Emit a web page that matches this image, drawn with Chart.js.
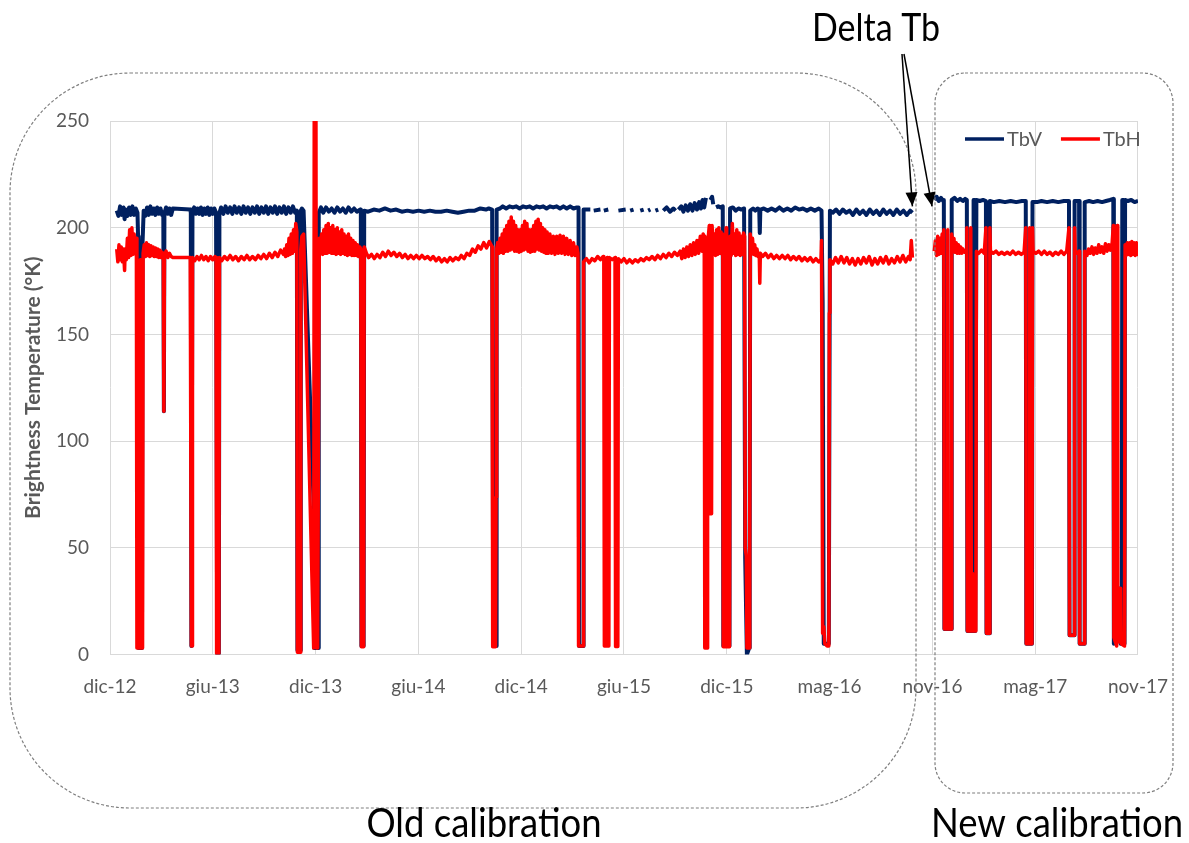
<!DOCTYPE html>
<html>
<head>
<meta charset="utf-8">
<title>Brightness Temperature TbV / TbH</title>
<script src="https://cdn.jsdelivr.net/npm/chart.js@4.4.1/dist/chart.umd.min.js"></script>
<style>
  html, body { margin: 0; padding: 0; background: #fff; }
  #wrap { position: relative; width: 1189px; height: 843px; }
</style>
</head>
<body>
<div id="wrap"><canvas id="tbChart"></canvas></div>
<script>
// x = days counted from 16 Dec 2012, the axis has a major unit of 180 days
const tickLabels = ["dic-12", "giu-13", "dic-13", "giu-14", "dic-14", "giu-15", "dic-15", "mag-16", "nov-16", "mag-17", "nov-17"];
const tickStepDays = 180;
const lastDay = 1832;
const yTickStep = 50;

const seriesNames = ["TbV", "TbH"];
const seriesColors = ["#002060", "#ff0000"];

// TbV [day, K]  (null = no data)
const tbvPoints = [
  [12,208],[15,205.5],[18,210],[21,206],[24,209.5],[26,204],[28,208.5],[31,205.5],[34,209.5],[37,206],[40,210],[43,206],[46,209],[49,207],
  [50,196],[51,3],[57,3],[58,193],[60,208],[63,205.5],[66,209.5],[69,206],[72,210],[75,206.5],[78,209],[81,206],[84,209.5],[87,206.5],[90,209],[93,206],
  [95,207],[96,114],[97,207],[100,209.5],[103,206.5],[106,209],[109,206],[112,209],[143,208.5],[144,207],[145,4],[146,4],[147,208],
  [150,209.5],[153,206.5],[156,209],[159,206.5],[162,209.5],[165,206],[168,209],[171,206.5],[174,209.5],[177,206],[180,209],[183,206.5],[186,209],[189,207],
  [190,207],[191,0.5],[194,0.5],[195,207],[198,209.5],[202,206.5],[206,210],[210,207],[214,209.5],[218,206.5],[222,210],[226,207],[230,209.5],[234,206.5],
  [238,210],[242,207],[246,209.5],[250,206.5],[254,209.5],[258,207],[262,210],[266,206.5],[270,209.5],[274,207],[278,210],[282,206.5],[286,209.5],[290,207],
  [294,210],[298,206.5],[302,209.5],[306,207],[310,210],[314,206.5],[318,209.5],[322,207],[326,210],[330,207],[333,208],[334,2],[339,2],[340,208],[342,209],
  [345,208],[363,70],[364,3],[371,3],[372,207],[376,209.5],[380,207],[385,209.5],[390,207.5],[395,209],[400,207],[405,209.5],[410,207.5],[415,209],[420,207],
  [425,209.5],[430,207.5],[435,209],[440,207.5],[446,208.5],[447,208],[448,4],[452,4],[453,208],[460,207.5],[470,208.5],[480,208],[490,209],[500,208],
  [510,208.5],[520,207.5],[530,208],[540,207.5],[550,208],[560,207.5],[570,208],[580,207.5],[590,207.5],[600,208],[610,207.5],[620,207],[630,207.5],[640,208],
  [650,208],[660,209],[670,208.5],[675,209],[681,208.5],[682,208.5],[683,4],[688,4],[689,208.5],[695,209],[700,210],[706,209],[712,210],[718,209.5],
  [724,210],[730,209],[736,210],[742,209.5],[748,210],[754,209],[760,210],[766,209.5],[772,210],[778,209],[784,210],[790,209.5],[796,210],[802,209],
  [808,210],[814,209],[820,210],[826,209],[832,209.5],[835,209.5],[836,4],[843,4],[844,208.5],[856,208.5],[859,null],[862,208],[874,208.5],[877,null],
  [880,208],[888,208.5],[895,null],[906,208],[919,208.5],[923,null],[927,208],[933,208.5],[939,null],[945,208],[951,208.5],[955,null],[959,208],[963,208.5],
  [967,null],[972,208],[977,208.5],[981,null],[986,208],[992,209.5],[998,207.5],[1004,209],[1008,208],[1010,null],[1013,208.5],[1018,210],[1022,207.5],
  [1026,210.5],[1030,208],[1034,211],[1038,208],[1042,211.5],[1046,208.5],[1050,212],[1053,209],[1056,213],[1059,209.5],[1062,214],[1064,null],[1070,213],
  [1073,214.5],[1075,211],[1077,null],[1080,209.5],[1084,210],[1088,209.5],[1092,210],[1093,4],[1097,195],[1099,4],[1104,4],[1105,209],[1110,209.5],
  [1115,208],[1120,209],[1125,208.5],[1130,209],[1131,209],[1132,45],[1135,0],[1139,3],[1140,50],[1141,208],[1146,209],[1150,208],[1154,209],[1157,208.5],
  [1158,197.5],[1159,208.5],[1165,209],[1172,208],[1179,209],[1186,208],[1193,209.5],[1200,208],[1207,209],[1214,208],[1221,209.5],[1228,208.5],[1235,209],
  [1242,208],[1249,209],[1256,208],[1263,209],[1268,208],[1270,165],[1272,5],[1281,5],[1283,208],[1288,207],[1294,208.5],[1300,206.5],[1306,208.5],
  [1312,207],[1318,208],[1324,206],[1330,208.5],[1336,206.5],[1342,208],[1348,206],[1354,208.5],[1360,206.5],[1366,208],[1372,206],[1378,208.5],
  [1384,206.5],[1390,208],[1396,206],[1402,208.5],[1408,206.5],[1414,208],[1420,206],[1426,208],[1430,207],[1450,null],
  [1469,213],[1473,214.5],[1477,212.5],[1481,214],[1485,212.5],[1486,213],[1487,12],[1499,12],[1500,213],[1505,214],[1510,212.5],[1515,213.5],[1520,212.5],
  [1524,213.5],[1527,213],[1528,11],[1538,11],[1539,213],[1541,213],[1542,11],[1543,11],[1544,213],[1550,212.5],[1556,213],[1561,212.5],[1562,10],[1567,10],
  [1568,212.5],[1575,212],[1585,212.5],[1595,212],[1605,212.5],[1615,212],[1625,212.5],[1632,212.5],[1633,5],[1643,5],[1644,212],[1652,212],[1660,212.5],
  [1670,212],[1680,212.5],[1690,212],[1700,212.5],[1709,212.5],[1710,9],[1718,9],[1719,212.5],[1723,212.5],[1727,212.5],[1728,5],[1736,5],[1737,212],
  [1745,212.5],[1752,212],[1760,212.5],[1768,212],[1775,212.5],[1782,213],[1788,213.5],[1789,5],[1800,31],[1801,5],[1803,5],[1804,213],[1806,213],
  [1807,190],[1808,5],[1809,213],[1814,212.5],[1820,213],[1826,212],[1832,212.5]
];

// TbH [day, K]
const tbhPoints = [
  [12,190],[14,184],[16,192],[18,185],[20,191],[22,184],[24,190],[26,180],[27,190],[29,185],[31,195],[33,186],[35,199],[37,187],[39,200],[41,187.5],
  [43,197],[45,188],[47,195],[48,3],[53,3],[54,185],[55,3],[58,3],[59,188],[61,192],[63,186.5],[65,193],[67,187],[69,192],[71,186.5],[73,191.5],[75,187],
  [77,191],[79,186.5],[81,190.5],[83,186.5],[85,190],[87,186],[89,189.5],[91,186],[93,188.5],[95,187],[96,114],[97,187],[100,189],[103,186],[106,188],
  [109,186.5],[112,186],[143,186],[144,186],[145,4],[146.5,4],[147,186],[151,184.5],[155,186.5],[159,185],[163,187],[167,185],[171,186.5],[175,184.5],
  [179,186.5],[183,185],[187,186.5],[189,186],[190,0.5],[192,2],[194,0.5],[195,186],[199,184.5],[204,186.5],[209,185],[214,187],[219,185],[224,186.5],
  [229,184.5],[234,186.5],[239,185],[244,187],[249,185],[254,186.5],[259,185],[264,187],[269,185.5],[274,187.5],[279,185.5],[284,188],[289,186],[294,188.5],
  [299,186.5],[304,189.5],[309,187.5],[311,190],[313,186.5],[315,192],[317,187],[319,195],[321,187.5],[323,197],[325,188],[327,199],[329,189],[331,202],
  [333,198],[334,1],[339,1],[340,190],[342,196],[345,197],[363,3],[364,260],[367,260],[368,3],[370,3],[373,195],[375,188],[377,197],[379,187.5],[381,199],
  [383,188],[385,201],[387,188],[389,202],[391,188.5],[393,200],[395,188],[397,201],[399,188],[401,199],[403,187.5],[405,200],[407,188],[409,198],
  [411,187.5],[413,199],[415,188],[417,197],[419,187.5],[421,196],[423,187],[425,197],[427,187.5],[429,195],[431,187],[433,194],[435,187],[437,193],
  [439,187],[441,192],[443,186.5],[445,191],[447,190],[448,3.6],[452,3.6],[453,191],[457,188],[461,186],[466,187.5],[471,185.5],[476,187.5],[481,186],
  [486,188.5],[491,186.5],[496,189],[501,187],[506,188.5],[511,186.5],[516,188],[521,186],[526,187.5],[531,185.5],[536,187],[541,185.5],[546,187],
  [551,185.5],[556,187],[561,185.5],[566,186.5],[571,185],[576,186.5],[581,184.5],[586,186],[591,184],[596,185.5],[601,184],[606,186],[611,184.5],
  [616,186],[621,185],[626,187],[631,185.5],[636,188],[641,187],[646,190],[651,188.5],[656,191.5],[661,190],[666,193],[671,190.5],[676,193.5],[681,191],
  [682,3.6],[687,3.6],[688,73.7],[689,190],[691,193],[693,188],[695,195],[697,188.5],[699,197],[701,188],[703,199],[705,189],[707,201],[709,189],[711,203],
  [713,189.5],[715,205],[717,190],[719,203],[721,189],[723,201],[725,189],[727,199],[729,188.5],[731,199],[733,189],[735,201],[737,189.5],[739,203],
  [741,190],[743,202],[745,189],[747,199],[749,188.5],[751,199],[753,189],[755,201],[757,189],[759,203],[761,190],[763,204],[765,189.5],[767,202],
  [769,189],[771,200],[773,188.5],[775,199],[777,188],[779,198],[781,188],[784,197],[787,188],[790,196],[793,187.5],[796,196],[799,188],[802,196.5],
  [805,188],[808,196],[811,187.5],[814,195],[817,187.5],[820,194],[823,187],[826,193],[829,187],[832,191],[834,188],[835,4],[843,4],[844,184],
  [849,185.5],[854,183.5],[859,185.5],[864,184.5],[869,186.5],[874,185],[879,186.5],[880,186],[881,4],[885,4],[886,186],[887,4],[889,4],[890,186],
  [895,185],[900,186],[901,3.8],[905,3.8],[906,185.5],[911,184],[916,185.5],[921,183.5],[926,185],[931,183.5],[936,185],[941,184],[946,185.5],[951,184.5],
  [956,186],[961,185],[966,186.5],[971,185],[976,187],[981,185.5],[986,187.5],[991,186],[996,188],[1001,186.5],[1006,188.5],[1011,187],[1016,189],
  [1019,185.5],[1022,190],[1025,186],[1028,191],[1031,186.5],[1034,192],[1037,187],[1040,193],[1043,187.5],[1046,194],[1049,188],[1052,196],[1055,189],
  [1057,197],[1059,196],[1060,3],[1064,3],[1065,192],[1068,201],[1069,66],[1072,66],[1073,201],[1075,188],[1077,197],[1079,187],[1081,199],[1083,187.5],
  [1085,200],[1087,188],[1089,198],[1091,187.5],[1092,197],[1093,3.6],[1097,3.6],[1098,200],[1099,3.6],[1104,3.6],[1105,196],[1107,187],[1109,202],
  [1111,188],[1113,197],[1115,187],[1117,199],[1119,187.5],[1121,197.5],[1123,187],[1125,196],[1127,187.5],[1129,197.5],[1131,196],[1132,50],[1134,46],
  [1135,3],[1139,3],[1140,48],[1141,197],[1143,188],[1145,195],[1147,187.5],[1149,192],[1151,187],[1153,190],[1155,186.5],[1157,188],[1158,174],[1159,188],
  [1163,186.5],[1168,188],[1173,186],[1178,187.5],[1183,185.5],[1188,187],[1193,185.5],[1198,187],[1203,185.5],[1208,187],[1213,185],[1218,186.5],
  [1223,185],[1228,186.5],[1233,184.5],[1238,186],[1243,184.5],[1248,186],[1253,184],[1258,185.5],[1263,184],[1267,185],[1268,194],[1270,10],[1272,13],
  [1274,5],[1278,4],[1281,4],[1282,160],[1283,185],[1288,183],[1293,186],[1298,183.5],[1303,186.5],[1308,183.5],[1313,186],[1318,183],[1323,185.5],
  [1328,182.5],[1333,185.5],[1338,183],[1343,186],[1348,183.5],[1353,186.5],[1358,182.5],[1363,185.5],[1368,183],[1373,186],[1378,183.5],[1383,186.5],
  [1388,183],[1393,185.5],[1398,183.5],[1403,186.5],[1408,184],[1413,187],[1418,184],[1423,186.5],[1426,185],[1428,194],[1430,186],[1450,null],
  [1469,189],[1471,194],[1473,187],[1475,196],[1477,187.5],[1479,195],[1481,188],[1483,197],[1485,189],[1486,199],[1487,12],[1492,12],[1493,199],[1494,12],
  [1499,12],[1500,197],[1502,189],[1504,195],[1506,188.5],[1508,193],[1510,188],[1512,192],[1514,188],[1516,191],[1518,188],[1520,190],[1523,188.5],
  [1526,189],[1527,200],[1528,11],[1533,11],[1534,200],[1535,11],[1537,38],[1538,11],[1543,11],[1544,189],[1548,188],[1553,189.5],[1558,188],[1561,200],
  [1562,10],[1567,10],[1568,200],[1569,189],[1574,188],[1579,189],[1584,187.5],[1589,188.5],[1594,187.5],[1599,188.5],[1604,187.5],[1609,189],[1614,187.5],
  [1619,188.5],[1624,187.5],[1629,188.5],[1632,200],[1633,5],[1638,5],[1639,200],[1640,5],[1643,5],[1644,200],[1645,189],[1650,188],[1655,189],[1660,187.5],
  [1665,189],[1670,187.5],[1675,188.5],[1680,187],[1685,188.5],[1690,187.5],[1695,189],[1700,187.5],[1705,189],[1709,200],[1710,9],[1718,9],[1719,200],
  [1720,189],[1724,188],[1727,189],[1728,5],[1736,5],[1737,189],[1741,187],[1744,190],[1747,188],
  [1750,191],[1753,187.5],[1756,190.5],[1759,188],[1762,192],[1765,188.5],[1768,191],[1771,188],[1774,192.5],[1777,189],[1780,192],[1783,189.5],[1786,193],
  [1788,201],[1789,8],[1794,4],[1795,201],[1796,6],[1800,6],[1801,31],[1802,5],[1808,4],[1809,192],[1811,187],[1813,193],[1815,187.5],[1817,193],[1819,187],
  [1821,193.5],[1823,187.5],[1825,193],[1827,187],[1829,193],[1831,187.5],[1832,192]
];

const toXY = pts => pts.map(p => ({ x: p[0], y: p[1] }));

function roundedBox(ctx, x, y, w, h, r) {
  ctx.beginPath();
  ctx.moveTo(x + r, y);
  ctx.lineTo(x + w - r, y);
  ctx.arcTo(x + w, y, x + w, y + r, r);
  ctx.lineTo(x + w, y + h - r);
  ctx.arcTo(x + w, y + h, x + w - r, y + h, r);
  ctx.lineTo(x + r, y + h);
  ctx.arcTo(x, y + h, x, y + h - r, r);
  ctx.lineTo(x, y + r);
  ctx.arcTo(x, y, x + r, y, r);
  ctx.closePath();
  ctx.stroke();
}

function arrow(ctx, x0, y0, x1, y1) {
  ctx.beginPath();
  ctx.moveTo(x0, y0);
  ctx.lineTo(x1, y1);
  ctx.stroke();
  const a = Math.atan2(y1 - y0, x1 - x0);
  const len = 14, half = 6;
  ctx.beginPath();
  ctx.moveTo(x1, y1);
  ctx.lineTo(x1 - len * Math.cos(a) + half * Math.sin(a), y1 - len * Math.sin(a) - half * Math.cos(a));
  ctx.lineTo(x1 - len * Math.cos(a) - half * Math.sin(a), y1 - len * Math.sin(a) + half * Math.cos(a));
  ctx.closePath();
  ctx.fill();
}

// tall, slightly condensed caption text (the source uses Calibri)
function caption(ctx, text, x, y, size) {
  ctx.save();
  ctx.translate(x, y);
  ctx.scale(1, 1.12);
  ctx.font = size + "px Lato";
  ctx.fillText(text, 0, 0);
  ctx.restore();
}

// legend inside the plot, dashed boxes, arrows and captions
const notesPlugin = {
  id: "notes",
  afterDraw(chart) {
    const ctx = chart.ctx;
    const area = chart.chartArea;
    const xs = chart.scales.x, ys = chart.scales.y;
    ctx.save();

    // legend
    ctx.font = "20px Lato";
    ctx.textBaseline = "middle";
    ctx.textAlign = "left";
    let lx = area.right - 173;
    const ly = area.top + 18;
    seriesNames.forEach((name, i) => {
      ctx.strokeStyle = seriesColors[i];
      ctx.lineWidth = 3.5;
      ctx.beginPath();
      ctx.moveTo(lx, ly);
      ctx.lineTo(lx + 39, ly);
      ctx.stroke();
      ctx.fillStyle = "#595959";
      ctx.fillText(name, lx + 42, ly + 1);
      lx += 42 + ctx.measureText(name).width + 19;
    });

    // dashed calibration frames
    ctx.strokeStyle = "#7f7f7f";
    ctx.lineWidth = 1.2;
    ctx.setLineDash([3, 2]);
    roundedBox(ctx, 10, 73, 906, 735, 120);
    roundedBox(ctx, 935, 73, 238, 720, 30);
    ctx.setLineDash([]);

    // Delta Tb arrows to the last old / first new sample
    ctx.strokeStyle = "#000";
    ctx.fillStyle = "#000";
    ctx.lineWidth = 1.5;
    arrow(ctx, 902, 54, xs.getPixelForValue(1430), ys.getPixelForValue(210));
    arrow(ctx, 904, 54, xs.getPixelForValue(1465), ys.getPixelForValue(210));

    ctx.fillStyle = "#000";
    ctx.textAlign = "center";
    ctx.textBaseline = "alphabetic";
    caption(ctx, "Delta Tb", 876, 41, 34);
    caption(ctx, "Old calibration", 484, 837, 36.5);
    caption(ctx, "New calibration", 1057, 837, 36.5);
    ctx.restore();
  }
};

const ctx = document.getElementById("tbChart").getContext("2d");

new Chart(ctx, {
  type: "line",
  data: {
    datasets: [
      {
        label: seriesNames[0],
        data: toXY(tbvPoints),
        borderColor: seriesColors[0],
        backgroundColor: seriesColors[0],
        borderWidth: 4,
        order: 1
      },
      {
        label: seriesNames[1],
        data: toXY(tbhPoints),
        borderColor: seriesColors[1],
        backgroundColor: seriesColors[1],
        borderWidth: 3.5,
        order: 0
      }
    ]
  },
  options: {
    responsive: true,
    maintainAspectRatio: false,
    animation: false,
    events: [],
    elements: {
      point: { radius: 0 },
      line: { tension: 0, borderJoinStyle: "round", borderCapStyle: "butt" }
    },
    layout: { padding: { left: 0, top: 121, right: 48, bottom: 138.5 } },
    plugins: {
      legend: { display: false },
      tooltip: { enabled: false }
    },
    scales: {
      x: {
        type: "linear",
        min: 0,
        max: lastDay,
        afterFit: s => { s.height = 50; },
        grid: { color: "#d9d9d9", drawTicks: false },
        border: { color: "#d9d9d9" },
        ticks: {
          stepSize: tickStepDays,
          includeBounds: false,
          autoSkip: false,
          maxRotation: 0,
          padding: 21,
          color: "#595959",
          font: { family: "Lato", size: 19 },
          callback: v => tickLabels[Math.round(v / tickStepDays)] ?? ""
        }
      },
      y: {
        min: 0,
        max: 250,
        afterFit: s => { s.width = 110; },
        grid: { color: "#d9d9d9", drawTicks: false },
        border: { display: false },
        ticks: {
          stepSize: yTickStep,
          padding: 21,
          color: "#595959",
          font: { family: "Lato", size: 19 }
        },
        title: {
          display: true,
          text: "Brightness Temperature (°K)",
          color: "#595959",
          font: { family: "Lato", size: 21, weight: "bold" },
          padding: { top: 21, bottom: 0 }
        }
      }
    }
  },
  plugins: [notesPlugin]
});
</script>
</body>
</html>
